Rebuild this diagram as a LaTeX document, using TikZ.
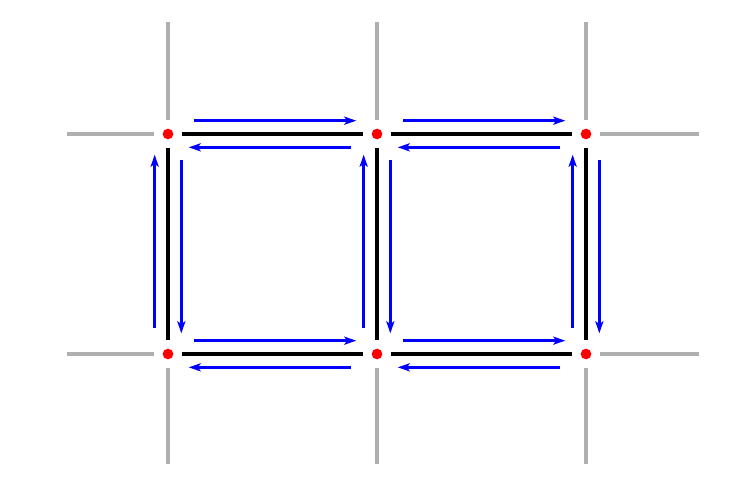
\documentclass[tikz,border=0pt]{standalone}
\usetikzlibrary{arrows.meta}
\definecolor{Stub}{HTML}{AFAFAF}
\definecolor{Site}{HTML}{FF0000}
\definecolor{Flow}{HTML}{0000FF}
\begin{document}
\begin{tikzpicture}[x=0.75pt,y=0.75pt,
  site/.style={circle,fill=Site,inner sep=0pt,minimum size=8pt},
  bond/.style={black,line width=2.3pt,shorten <=6pt,shorten >=6pt},
  stub/.style={Stub,line width=2.3pt,shorten <=6pt},
  flow/.style={Flow,line width=2.3pt,-{Stealth[length=9pt,width=6pt,inset=2pt]},shorten <=19.5pt,shorten >=15.5pt}]
\useasboundingbox (0,0) rectangle (754,487);
% sites
\node[site] (t1) at (168,353) {};
\node[site] (t2) at (377,353) {};
\node[site] (t3) at (586,353) {};
\node[site] (b1) at (168,133) {};
\node[site] (b2) at (377,133) {};
\node[site] (b3) at (586,133) {};
% open ends of the lattice
\coordinate (t1u) at (168,465); \coordinate (t2u) at (377,465); \coordinate (t3u) at (586,465);
\coordinate (b1d) at (168,23);  \coordinate (b2d) at (377,23);  \coordinate (b3d) at (586,23);
\coordinate (t1l) at (67,353);  \coordinate (b1l) at (67,133);
\coordinate (t3r) at (699,353); \coordinate (b3r) at (699,133);
\foreach \s/\e in {t1/t1u,t2/t2u,t3/t3u,b1/b1d,b2/b2d,b3/b3d,t1/t1l,b1/b1l,t3/t3r,b3/b3r}
  \draw[stub] (\s) -- (\e);
% bonds
\foreach \a/\b in {t1/t2,t2/t3,b1/b2,b2/b3,b1/t1,b2/t2,b3/t3}
  \draw[bond] (\a) -- (\b);
% horizontal flows
\foreach \a/\b in {t1/t2,t2/t3,b1/b2,b2/b3}{
  \draw[flow] ([yshift=10pt]\a.center) -- ([yshift=10pt]\b.center);
  \draw[flow] ([yshift=-10pt]\b.center) -- ([yshift=-10pt]\a.center);
}
% vertical flows
\foreach \a/\b in {b1/t1,b2/t2,b3/t3}{
  \draw[flow] ([xshift=-10pt]\a.center) -- ([xshift=-10pt]\b.center);
  \draw[flow] ([xshift=10pt]\b.center) -- ([xshift=10pt]\a.center);
}
\end{tikzpicture}
\end{document}
